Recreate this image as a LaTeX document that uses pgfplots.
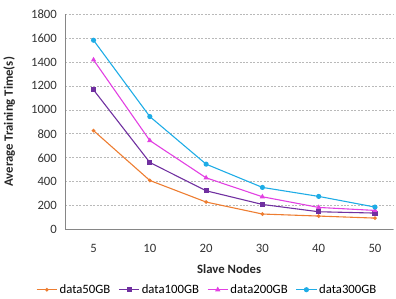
\documentclass[border=0pt]{standalone}
\usepackage{pgfplots}
\pgfplotsset{compat=1.18}
\usepackage{fontspec}
\setmainfont{Carlito}
\definecolor{c50}{RGB}{237,125,49}
\definecolor{c100}{RGB}{112,48,160}
\definecolor{c200}{RGB}{226,64,226}
\definecolor{c300}{RGB}{30,172,230}
\definecolor{axgray}{RGB}{134,134,134}
\definecolor{gridgray}{RGB}{185,185,185}
\begin{document}
\begin{tikzpicture}
\begin{axis}[name=ax, scale only axis, width=328bp, height=216bp,
  xmin=-0.5, xmax=5.32, ymin=0, ymax=1800,
  xtick={0,1,2,3,4,5}, xticklabels={5,10,20,30,40,50},
  major x tick style={draw=none},
  extra x ticks={0.5,1.5,2.5,3.5,4.5}, extra x tick labels={},
  extra x tick style={tick align=inside, major tick length=4bp, major tick style={draw=axgray, line width=0.8pt}},
  ytick={0,200,...,1800}, ytick style={draw=none},
  ymajorgrids, grid style={gridgray, dash pattern=on 2pt off 1.5pt, line width=0.7pt},
  axis x line*=bottom, axis y line*=left,
  axis line style={-, draw=axgray, line width=0.9pt},
  tick label style={font=\fontsize{12.8}{14}\selectfont, text=black!80},
  /pgf/number format/assume math mode=true,
  /pgf/number format/1000 sep={},
  yticklabel style={xshift=-5bp},
  xticklabel style={yshift=-11bp},
  xlabel={\textbf{Slave Nodes}}, ylabel={\textbf{Average Training Time(s)}},
  label style={font=\fontsize{12.8}{14}\selectfont, text=black!85},
  xlabel style={at={(axis description cs:0.5,0)}, yshift=-31bp, anchor=north},
  ylabel style={at={(axis description cs:0,0.5)}, anchor=south, yshift=47bp},
  legend columns=4,
  legend style={draw=none, fill=none, at={(0.433,-0.278)}, anchor=center,
    font=\fontsize{12.8}{14}\selectfont, /tikz/every even column/.append style={column sep=6bp}},
  legend image code/.code={\draw[mark repeat=2,mark phase=2] plot coordinates {(0cm,0cm)(0.36cm,0cm)(0.72cm,0cm)};},
  every axis plot/.append style={line width=1.1pt},
]
\addplot[c50, mark=*, mark size=1.3pt] coordinates {(0,827) (1,411) (2,231) (3,131) (4,114) (5,97)};
\addlegendentry{data50GB}
\addplot[c100, mark=square*, mark size=2pt] coordinates {(0,1167) (1,561) (2,325) (3,211) (4,150) (5,139)};
\addlegendentry{data100GB}
\addplot[c200, mark=triangle*, mark size=2pt] coordinates {(0,1417) (1,744) (2,433) (3,275) (4,186) (5,161)};
\addlegendentry{data200GB}
\addplot[c300, mark=*, mark size=2pt] coordinates {(0,1581) (1,944) (2,547) (3,353) (4,278) (5,189)};
\addlegendentry{data300GB}
\end{axis}
\path ([shift={(-65bp,-68bp)}]ax.south west) rectangle ([shift={(3bp,14bp)}]ax.north east);
\end{tikzpicture}
\end{document}
